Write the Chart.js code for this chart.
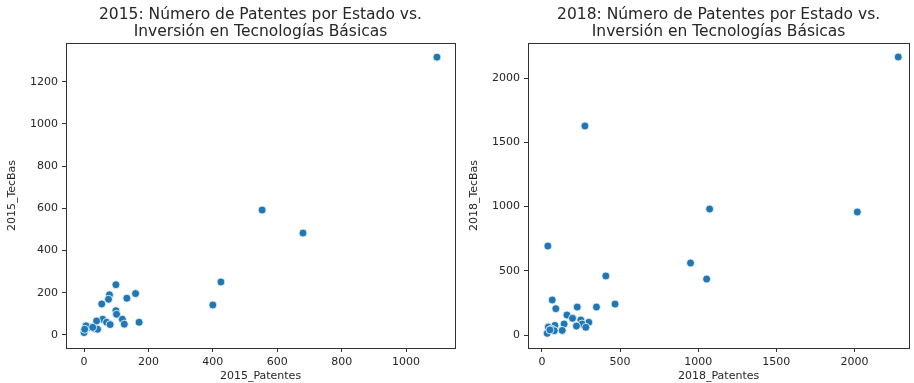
<!DOCTYPE html>
<html>
<head>
<meta charset="utf-8">
<script src="https://cdn.jsdelivr.net/npm/chart.js@4.4.1/dist/chart.umd.min.js"></script>
<style>
  html, body { margin: 0; padding: 0; background: #fff; }
  #wrap { position: relative; width: 914px; height: 383px; }
  .box { position: absolute; top: 0; height: 383px; }
  #b1 { left: 0; width: 460px; }
  #b2 { left: 460px; width: 454px; }
</style>
</head>
<body>
<div id="wrap">
  <div class="box" id="b1"><canvas id="c2015"></canvas></div>
  <div class="box" id="b2"><canvas id="c2018"></canvas></div>
</div>
<script>
// Patents per state vs. investment in basic technologies
const patentes2015 = [1096, 553, 680, 425, 400, 99, 79, 76, 55, 133, 160, 99, 101, 119, 125, 171, 58, 39, 70, 81, 17, 6, 32, 42, 0, 2, 27];
const tecbas2015   = [1317, 592, 483, 251, 142, 238, 190, 169, 147, 174, 196, 115, 98, 74, 51, 60, 74, 66, 60, 49, 36, 43, 30, 27, 11, 27, 36];

const patentes2018 = [2280, 275, 38, 1073, 2018, 951, 1054, 409, 66, 89, 226, 349, 468, 160, 196, 249, 300, 257, 142, 221, 281, 83, 130, 41, 62, 79, 34, 51];
const tecbas2018   = [2165, 1628, 693, 981, 958, 561, 436, 460, 273, 205, 218, 218, 241, 156, 130, 117, 99, 86, 86, 70, 60, 75, 36, 62, 47, 34, 13, 40];

const ticksX2015 = [0, 200, 400, 600, 800, 1000];
const ticksY2015 = [0, 200, 400, 600, 800, 1000, 1200];
const ticksX2018 = [0, 500, 1000, 1500, 2000];
const ticksY2018 = [0, 500, 1000, 1500, 2000];

const FONT = "'DejaVu Sans', sans-serif";
const TEXT = '#262626';
const POINT = '#1f77b4';

// full frame around the plotting area
const frame = {
  id: 'frame',
  afterDatasetsDraw(chart) {
    const a = chart.chartArea, ctx = chart.ctx;
    ctx.save();
    ctx.strokeStyle = '#333';
    ctx.lineWidth = 1;
    ctx.strokeRect(Math.round(a.left) + 0.5, Math.round(a.top) + 0.5,
                   Math.round(a.right - a.left), Math.round(a.bottom - a.top));
    ctx.restore();
  }
};

function axis(title, min, max, values, size, titlePad) {
  return {
    type: 'linear',
    min: min, max: max,
    afterBuildTicks(s) { s.ticks = values.map(v => ({ value: v })); },
    afterFit(s) {
      if (s.isHorizontal()) s.height = size; else s.width = size;
    },
    grid: { drawOnChartArea: false, drawTicks: true, tickLength: 4, color: '#333' },
    border: { display: false },
    ticks: {
      color: TEXT, font: { family: FONT, size: 11 }, padding: 4, maxRotation: 0,
      callback: v => String(v)
    },
    title: { display: true, text: title, color: TEXT, font: { family: FONT, size: 11 }, padding: titlePad }
  };
}

function makeChart(id, year, xs, ys, xr, yr, xt, yt, yWidth, padRight, yTitlePad) {
  const pts = xs.map((x, i) => ({ x: x, y: ys[i] }));
  new Chart(document.getElementById(id), {
    type: 'scatter',
    data: {
      datasets: [{
        data: pts,
        backgroundColor: POINT,
        borderColor: '#ffffff',
        borderWidth: 0.8,
        pointRadius: 4,
        pointHoverRadius: 4
      }]
    },
    options: {
      responsive: true,
      maintainAspectRatio: false,
      animation: false,
      layout: { padding: { left: 0, right: padRight, top: 0, bottom: 0 } },
      plugins: {
        legend: { display: false },
        tooltip: { enabled: false },
        title: {
          display: true,
          fullSize: false,
          text: [year + ': Número de Patentes por Estado vs.', 'Inversión en Tecnologías Básicas'],
          color: TEXT,
          font: { family: FONT, size: 15.5, weight: 'normal', lineHeight: 1.1 },
          padding: { top: 6.5, bottom: 2.4 }
        }
      },
      scales: {
        x: axis(year + '_Patentes', xr[0], xr[1], xt, 35, { top: 1, bottom: 0 }),
        y: axis(year + '_TecBas', yr[0], yr[1], yt, yWidth, { top: yTitlePad, bottom: 0 })
      }
    },
    plugins: [frame]
  });
}

makeChart('c2015', '2015', patentes2015, tecbas2015, [-56, 1152], [-62, 1384], ticksX2015, ticksY2015, 66, 5, 6);
makeChart('c2018', '2018', patentes2018, tecbas2018, [-89, 2350], [-101, 2274], ticksX2018, ticksY2018, 68, 4, 8);
</script>
</body>
</html>
